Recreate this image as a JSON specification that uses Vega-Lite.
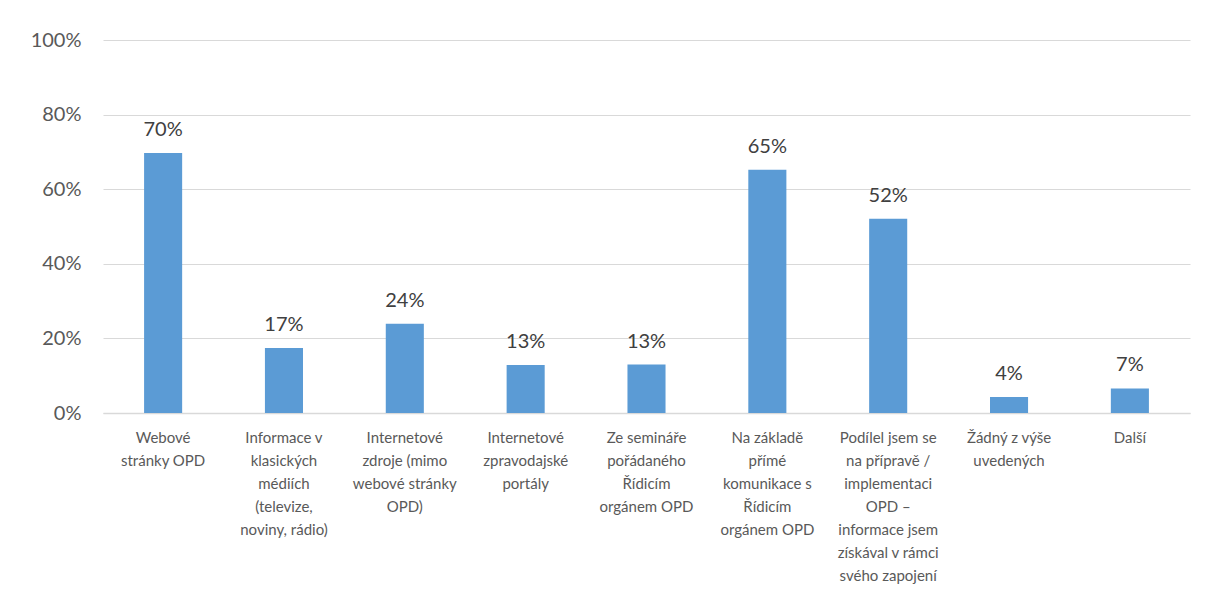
{
  "$schema": "https://vega.github.io/schema/vega-lite/v6.json",
  "autosize": "none",
  "width": 1087,
  "height": 373,
  "padding": {"left": 103, "top": 40, "right": 16, "bottom": 181},
  "background": "white",
  "config": {
    "view": {"stroke": null},
    "font": "Lato",
    "axis": {"labelFont": "Lato", "labelColor": "#595959"}
  },
  "data": {
    "values": [
      {"kat": "Webové|stránky OPD", "podil": 0.697},
      {"kat": "Informace v|klasických|médiích|(televize,|noviny, rádio)", "podil": 0.174},
      {"kat": "Internetové|zdroje (mimo|webové stránky|OPD)", "podil": 0.239},
      {"kat": "Internetové|zpravodajské|portály", "podil": 0.129},
      {"kat": "Ze semináře|pořádaného|Řídicím|orgánem OPD", "podil": 0.13},
      {"kat": "Na základě|přímé|komunikace s|Řídicím|orgánem OPD", "podil": 0.652},
      {"kat": "Podílel jsem se|na přípravě /|implementaci|OPD –|informace jsem|získával v rámci|svého zapojení", "podil": 0.521},
      {"kat": "Žádný z výše|uvedených", "podil": 0.043},
      {"kat": "Další", "podil": 0.066}
    ]
  },
  "encoding": {
    "x": {
      "field": "kat", "type": "nominal", "sort": null, "title": null,
      "scale": {"paddingInner": 0.685, "paddingOuter": 0.34},
      "axis": {
        "labelAngle": 0, "labelExpr": "split(datum.label, '|')",
        "labelFontSize": 15, "labelLineHeight": 23, "labelPadding": 17,
        "labelBaseline": "top", "labelLimit": 200,
        "ticks": false, "domainColor": "#d9d9d9", "domainWidth": 1.5, "grid": false
      }
    },
    "y": {
      "field": "podil", "type": "quantitative", "title": null,
      "scale": {"domain": [0, 1]},
      "axis": {
        "format": ".0%", "values": [0, 0.2, 0.4, 0.6, 0.8, 1],
        "labelFontSize": 20, "labelPadding": 22, "ticks": false, "domain": false,
        "gridColor": "#d9d9d9", "gridWidth": 1.2
      }
    }
  },
  "layer": [
    {"mark": {"type": "bar", "color": "#5b9bd5"}},
    {
      "mark": {"type": "text", "baseline": "bottom", "dy": -13, "fontSize": 20, "color": "#404040", "font": "Lato"},
      "encoding": {"text": {"field": "podil", "type": "quantitative", "format": ".0%"}}
    }
  ]
}
